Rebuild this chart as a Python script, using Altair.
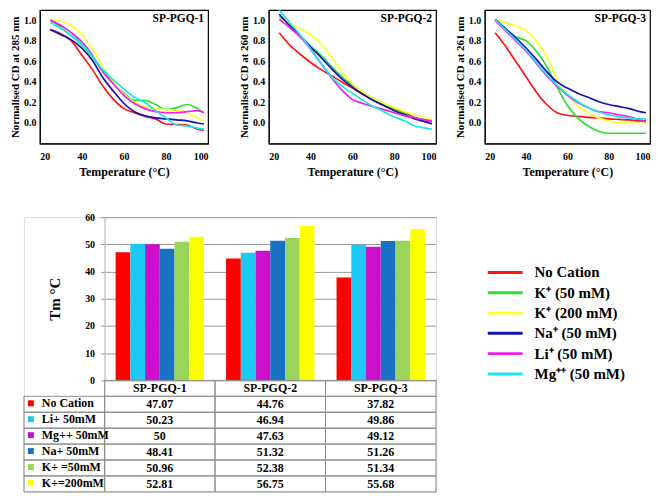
import altair as alt
import pandas as pd

FONT = "Liberation Serif"

# ---------------- melting curves (top row) ----------------
temps = [25, 30, 35, 40, 45, 50, 55, 60, 65, 70, 75, 80, 85, 90, 95, 98]
line_cations = ["No Cation", "K⁺ (50 mM)", "K⁺ (200 mM)", "Na⁺ (50 mM)", "Li⁺ (50 mM)", "Mg⁺⁺ (50 mM)"]
line_colors = ["#ff1414", "#2ee02e", "#ffff30", "#1414b4", "#f01ef0", "#1ee6f0"]

p1_none = [0.91, 0.87, 0.80, 0.66, 0.52, 0.36, 0.23, 0.14, 0.10, 0.065, 0.04, -0.01, -0.015, -0.02, -0.06, -0.07]
p1_k50 = [1.01, 0.93, 0.85, 0.76, 0.64, 0.50, 0.39, 0.29, 0.22, 0.22, 0.18, 0.13, 0.15, 0.18, 0.14, 0.10]
p1_k200 = [1.00, 0.99, 0.95, 0.86, 0.72, 0.55, 0.40, 0.28, 0.20, 0.16, 0.14, 0.13, 0.12, 0.10, 0.05, 0.02]
p1_na = [0.91, 0.86, 0.81, 0.73, 0.61, 0.44, 0.31, 0.19, 0.11, 0.07, 0.05, 0.04, 0.03, 0.02, 0.00, -0.01]
p1_li = [1.00, 0.95, 0.88, 0.79, 0.66, 0.50, 0.38, 0.27, 0.19, 0.14, 0.11, 0.10, 0.10, 0.11, 0.12, 0.10]
p1_mg = [0.98, 0.92, 0.85, 0.77, 0.65, 0.52, 0.42, 0.33, 0.25, 0.20, 0.12, 0.05, -0.02, -0.03, -0.05, -0.06]

p2_none = [0.88, 0.76, 0.67, 0.59, 0.52, 0.46, 0.40, 0.34, 0.28, 0.23, 0.18, 0.14, 0.10, 0.05, 0.02, 0.01]
p2_k50 = [1.04, 0.95, 0.85, 0.75, 0.66, 0.55, 0.45, 0.37, 0.30, 0.24, 0.19, 0.13, 0.09, 0.05, 0.03, 0.02]
p2_k200 = [1.00, 0.97, 0.92, 0.86, 0.77, 0.64, 0.50, 0.38, 0.30, 0.24, 0.19, 0.15, 0.11, 0.08, 0.05, 0.03]
p2_na = [1.06, 0.95, 0.85, 0.74, 0.64, 0.53, 0.43, 0.35, 0.28, 0.22, 0.17, 0.12, 0.08, 0.04, 0.01, -0.01]
p2_li = [1.01, 0.93, 0.84, 0.72, 0.58, 0.44, 0.32, 0.23, 0.19, 0.16, 0.13, 0.10, 0.07, 0.05, 0.03, 0.02]
p2_mg = [1.10, 0.98, 0.86, 0.72, 0.58, 0.45, 0.36, 0.29, 0.22, 0.16, 0.11, 0.06, 0.02, -0.03, -0.05, -0.06]

p3_none = [0.88, 0.75, 0.60, 0.45, 0.30, 0.18, 0.10, 0.075, 0.065, 0.055, 0.05, 0.04, 0.035, 0.03, 0.02, 0.02]
p3_k50 = [1.01, 0.92, 0.84, 0.80, 0.70, 0.55, 0.35, 0.17, 0.05, -0.03, -0.08, -0.10, -0.10, -0.10, -0.10, -0.10]
p3_k200 = [1.00, 0.98, 0.95, 0.90, 0.80, 0.65, 0.43, 0.28, 0.17, 0.10, 0.05, 0.02, 0.00, 0.00, 0.00, 0.00]
p3_na = [1.01, 0.92, 0.83, 0.73, 0.62, 0.50, 0.40, 0.34, 0.29, 0.25, 0.21, 0.18, 0.16, 0.14, 0.11, 0.10]
p3_li = [1.00, 0.90, 0.80, 0.70, 0.58, 0.46, 0.36, 0.27, 0.20, 0.15, 0.11, 0.10, 0.08, 0.06, 0.03, 0.01]
p3_mg = [1.01, 0.91, 0.81, 0.71, 0.59, 0.47, 0.37, 0.28, 0.21, 0.15, 0.11, 0.08, 0.06, 0.05, 0.04, 0.04]

panel_names = ["SP-PGQ-1", "SP-PGQ-2", "SP-PGQ-3"]
panel_ylabels = ["Normalised CD at 285 nm", "Normalised CD at 260 nm", "Normalised CD at 261 nm"]
x_ticks = [20, 40, 60, 80, 100]
y_ticks = [0.0, 0.2, 0.4, 0.6, 0.8, 1.0]

# ---------------- Tm bar chart + table (bottom) ----------------
groups = ["SP-PGQ-1", "SP-PGQ-2", "SP-PGQ-3"]
row_labels = ["No Cation", "Li+ 50mM", "Mg++ 50mM", "Na+ 50mM", "K+ =50mM", "K+=200mM"]
bar_colors = ["#ff0000", "#1ec8f5", "#cc10cc", "#1a72c4", "#9ad45a", "#ffff00"]
tm_g1 = [47.07, 50.23, 50, 48.41, 50.96, 52.81]
tm_g2 = [44.76, 46.94, 47.63, 51.32, 52.38, 56.75]
tm_g3 = [37.82, 49.86, 49.12, 51.26, 51.34, 55.68]
tm_ticks = [0, 10, 20, 30, 40, 50, 60]

# ---------------- layout constants ----------------
LH = 134          # line panel height
BH = 164          # bar plot height
TH = 112          # table height
BW = 333          # bar / table width
LCOLW = 81        # table label column width
GRID = "#8c8c8c"

axis_style = dict(
    labelFont=FONT, labelFontWeight="bold", labelFontSize=10, labelColor="black",
    titleFont=FONT, titleFontWeight="bold", titleColor="black",
    domainColor="black", tickColor="black", grid=False,
)


def line_panel(series_list, ylab, name, width):
    rows = []
    for cat, series in zip(line_cations, series_list):
        for t, v in zip(temps, series):
            rows.append({"T": t, "v": v, "cation": cat})
    df = pd.DataFrame(rows)
    return alt.Chart(df).mark_line(strokeWidth=1.7, interpolate="monotone", clip=True).encode(
        x=alt.X("T:Q", scale=alt.Scale(domain=[20, 100], nice=False),
                axis=alt.Axis(values=x_ticks, title="Temperature (°C)", ticks=False,
                              labelPadding=8, titlePadding=5, titleFontSize=12, **axis_style)),
        y=alt.Y("v:Q", scale=alt.Scale(domain=[-0.2, 1.1], nice=False),
                axis=alt.Axis(values=y_ticks, format=".1f", title=ylab, ticks=False,
                              labelPadding=4, titlePadding=3, titleFontSize=11, **axis_style)),
        color=alt.Color("cation:N", scale=alt.Scale(domain=line_cations, range=line_colors), legend=None),
        order=alt.Order("T:Q"),
    ).properties(
        width=width, height=LH,
        title=alt.TitleParams(name, anchor="end", offset=-14, dx=-4, font=FONT,
                              fontSize=11.5, fontWeight="bold", color="black"),
        view=alt.ViewBackground(stroke="black", strokeWidth=1.2),
    )


def spacer(w, h):
    return alt.Chart(pd.DataFrame({"s": [0]})).mark_point(opacity=0).properties(width=w, height=h)


p1 = line_panel([p1_none, p1_k50, p1_k200, p1_na, p1_li, p1_mg], panel_ylabels[0], panel_names[0], 169)
p2 = line_panel([p2_none, p2_k50, p2_k200, p2_na, p2_li, p2_mg], panel_ylabels[1], panel_names[1], 168)
p3 = line_panel([p3_none, p3_k50, p3_k200, p3_na, p3_li, p3_mg], panel_ylabels[2], panel_names[2], 166)

line_row = alt.hconcat(spacer(16, LH), p1, spacer(61, LH), p2, spacer(49, LH), p3,
                       spacing=0, bounds="flush")

# bar data
bar_rows = []
for g, vals in zip(groups, [tm_g1, tm_g2, tm_g3]):
    for lab, v in zip(row_labels, vals):
        bar_rows.append({"group": g, "row": lab, "tm": v, "txt": f"{v:g}"})
bar_df = pd.DataFrame(bar_rows)

table_rows = list(bar_rows) + [{"group": g, "row": "hdr", "tm": None, "txt": g} for g in groups]
table_df = pd.DataFrame(table_rows)
row_domain = ["hdr"] + row_labels

bars = alt.Chart(bar_df).mark_bar().encode(
    x=alt.X("group:N", scale=alt.Scale(domain=groups, paddingInner=0.2, paddingOuter=0.1), axis=None),
    xOffset=alt.XOffset("row:N", scale=alt.Scale(domain=row_labels, paddingInner=0, paddingOuter=0)),
    y=alt.Y("tm:Q", scale=alt.Scale(domain=[0, 60], range=[BH, 0], nice=False),
            axis=alt.Axis(values=tm_ticks, title="Tm °C", grid=True, gridColor="#9a9a9a",
                          domainColor="#c8c8c8", tickColor="#9a9a9a", tickSize=4,
                          labelFont=FONT, labelFontWeight="bold", labelFontSize=10, labelColor="black",
                          labelPadding=6, titleFont=FONT, titleFontWeight="bold", titleFontSize=15,
                          titleColor="black", titlePadding=22)),
    color=alt.Color("row:N", scale=alt.Scale(domain=row_labels, range=bar_colors),
                    legend=alt.Legend(orient="none", legendX=-80, legendY=BH + TH / 7 + 1,
                                      title=None, symbolType="square", symbolSize=36,
                                      symbolStrokeWidth=0, symbolOpacity=1, labelFont=FONT,
                                      labelFontWeight="bold", labelFontSize=12, labelColor="black",
                                      rowPadding=TH / 7 - 12, padding=0, labelOffset=5)),
)

cell_x = alt.X("group:N", scale=alt.Scale(domain=groups, paddingInner=0, paddingOuter=0), axis=None)
cell_y = alt.Y("row:N", scale=alt.Scale(domain=row_domain, range=[BH, BH + TH], paddingInner=0, paddingOuter=0),
               axis=None)

cells = alt.Chart(table_df).mark_rect(fill="transparent", stroke=GRID, strokeWidth=1).encode(
    x=cell_x, y=cell_y)
texts = alt.Chart(table_df).mark_text(font=FONT, fontWeight="bold", fontSize=12, color="black").encode(
    x=cell_x, y=cell_y, text="txt:N")

value_area = alt.layer(bars, cells, texts).resolve_scale(
    x="independent", y="independent").properties(width=BW, height=BH + TH)

label_tab = alt.Chart(pd.DataFrame({"row": row_labels})).mark_rect(
    fill="transparent", stroke=GRID, strokeWidth=1).encode(
    y=alt.Y("row:N", scale=alt.Scale(domain=row_domain, range=[BH, BH + TH], paddingInner=0, paddingOuter=0),
            axis=None)
).properties(width=LCOLW, height=BH + TH)

# line legend: a short symbol "size" keeps rows tight, the path is stretched to ~35px
legend_chart = alt.Chart(pd.DataFrame({"cation": line_cations})).mark_point(opacity=0).encode(
    color=alt.Color("cation:N", scale=alt.Scale(domain=line_cations, range=line_colors),
                    legend=alt.Legend(orient="none", legendX=62, legendY=48, title=None,
                                      symbolType="M-5,0L5,0", symbolSize=49, symbolStrokeWidth=3,
                                      symbolOpacity=1, labelFont=FONT, labelFontWeight="bold",
                                      labelFontSize=15, labelColor="black", rowPadding=4.4,
                                      padding=0, labelOffset=22))
).properties(width=200, height=BH + TH)

bottom_row = alt.hconcat(label_tab, value_area, legend_chart, spacing=0, bounds="flush").resolve_scale(
    color="independent")

chart = alt.vconcat(line_row, bottom_row, spacing=33).resolve_scale(color="independent").properties(
    padding={"left": 0, "top": 0, "right": 0, "bottom": 0}
).configure_view(stroke="transparent").configure(background="white")

chart.save("out.html", embed_options={"renderer": "svg", "actions": False})
